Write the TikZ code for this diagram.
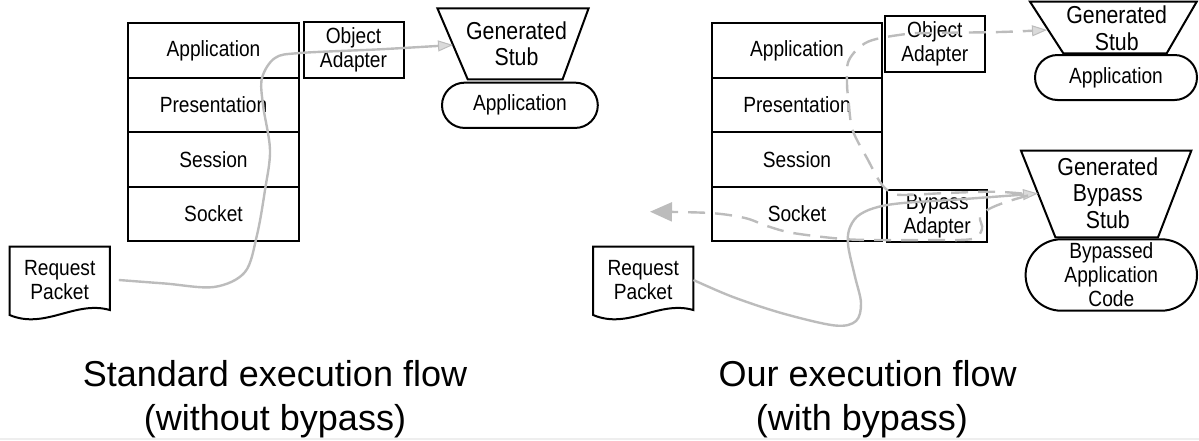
\documentclass[tikz,border=0pt]{standalone}
\usepackage{fontspec}
\setmainfont{Liberation Sans}
\newfontfamily\boxfont[FakeStretch=0.87]{Liberation Sans}
\usetikzlibrary{shapes.misc,arrows.meta}
\definecolor{flowgray}{RGB}{188,188,188}
\definecolor{tipfill}{RGB}{218,218,218}
\definecolor{stripgray}{RGB}{238,238,238}

\begin{document}
\begin{tikzpicture}[x=1pt,y=-1pt,
  lbl/.style={font=\boxfont\fontsize{22}{24}\selectfont, align=center},
  box/.style={lbl, draw=black, line width=2pt, inner sep=0pt},
  layer/.style={box, minimum width=170.6pt, minimum height=54.4pt},
  adapter/.style={box},
  stubtext/.style={font=\boxfont\fontsize{24.5}{26.3}\selectfont, align=center, inner sep=0pt},
  outline/.style={draw=black, line width=2pt, line join=miter},
  pill/.style={box, rounded rectangle},
  caption/.style={font=\fontsize{36}{43}\selectfont, anchor=base, inner sep=0pt},
  flow/.style={draw=flowgray, line width=2.4pt},
  fallback/.style={flow, dash pattern=on 17pt off 10pt},
  intip/.style={-{Triangle[length=15pt,width=11pt,line width=1pt,fill=tipfill]}},
  outtip/.style={-{Triangle[length=22pt,width=19pt]}}
]
\useasboundingbox (0,0) rectangle (1199,440);
\fill[stripgray] (0,437.5) rectangle (1199,440);

% ---------- standard flow (left) ----------
\node[layer] (app1)  at (213.5,50.5)  {Application};
\node[layer] (pres1) at (213.5,104.9) {Presentation};
\node[layer] (sess1) at (213.5,159.3) {Session};
\node[layer] (sock1) at (213.5,213.7) {Socket};
\node[adapter, minimum width=100pt, minimum height=56pt] (oa1) at (353.5,50) {Object\\Adapter};

\draw[outline] (437.4,8.3) -- (588.6,8.3) -- (562.6,79.3) -- (467.7,79.3) -- cycle;
\node[stubtext] (stub1) at (516.5,43.8) {Generated\\Stub};
\coordinate (stub1in) at (453,45);

\node[pill, minimum width=155.8pt, minimum height=45.3pt] (pill1) at (519.9,105.3) {Application};

\node[lbl, minimum width=100.2pt, minimum height=66.6pt, inner sep=0pt] (req1) at (59.7,280) {Request\\Packet};
\draw[outline] (9.6,315) -- (9.6,246.7) -- (109.8,246.7) -- (109.8,310)
  .. controls (75,300) and (45,330) .. cycle;

\draw[flow, intip] plot[smooth, tension=0.55] coordinates {
  ([xshift=8.8pt]req1.east) (165,283.5) (214,287) (245,272) (257,235) (265,190)
  (270,150) (263,105) (262,78) (275,58) (300,53) (380,49.3) (stub1in)};

% ---------- bypass flow (right) ----------
\node[layer] (app2)  at (797,50.5)  {Application};
\node[layer] (pres2) at (797,104.9) {Presentation};
\node[layer] (sess2) at (797,159.3) {Session};
\node[layer] (sock2) at (797,213.7) {Socket};
\node[adapter, minimum width=99.6pt, minimum height=55.7pt] (oa2) at (934.8,43.8) {Object\\Adapter};
\node[adapter, minimum width=100.3pt, minimum height=52.3pt] (ba2) at (937.2,216.2) {Bypass\\Adapter};

\draw[outline] (1030,1.7) -- (1196.7,1.7) -- (1166.7,53.3) -- (1063.3,53.3) -- cycle;
\node[stubtext] (stub2) at (1116.7,28.3) {Generated\\Stub};
\coordinate (stub2in) at (1047,30);
\node[pill, minimum width=162pt, minimum height=45pt] (pill2) at (1116,77.5) {Application};

\draw[outline] (1021,150.7) -- (1191.3,150.7) -- (1158,237.3) -- (1055.4,237.3) -- cycle;
\node[stubtext] (stub3) at (1107.8,193) {Generated\\Bypass\\Stub};
\coordinate (stub3in) at (1038,193.5);
\node[pill, minimum width=171.4pt, minimum height=71.4pt] (pill3) at (1111.3,275) {Bypassed\\Application\\Code};

\node[lbl, minimum width=100.2pt, minimum height=66.6pt, inner sep=0pt] (req2) at (643.2,280) {Request\\Packet};
\draw[outline] (593.1,315) -- (593.1,246.7) -- (693.3,246.7) -- (693.3,310)
  .. controls (658.5,300) and (628.5,330) .. cycle;
\coordinate (reply) at (650,211.7);

% request entering the bypass stub
\draw[flow, intip] plot[smooth, tension=0.55] coordinates {
  (req2.east) (733,297) (783,313.5) (835,325.5) (856,321) (861,303) (855,276.7)
  (848.3,246.7) (849,230) (857,216.7) (873.3,208.3) (900,203.3) (960,199.3) (stub3in)};

% fallback to the generated stub
\draw[fallback, intip] plot[smooth, tension=0.55] coordinates {
  ([xshift=-16pt]stub3in) (993,191.7) (946.7,193) (903,195) (890,192) (880,182)
  (868,160) (852.6,130) (848.5,100) (847,83) (849,60) (868,41.7) (906,34) (930,33)
  (1000,32) (stub2in)};

% reply leaving through the socket
\draw[fallback, outtip] plot[smooth, tension=0.55] coordinates {
  ([xshift=-10pt,yshift=-2pt]stub3in) (1006,202) (989,209) (980,217) (982,229)
  (972,239) (930,240) (880,240) (843,239) (793,233) (767,226) (745,218) (710,213) (reply)};

% ---------- captions ----------
\node[caption] (cap1a) at (275,386.7) {Standard execution flow};
\node[caption] (cap1b) at (275,430) {(without bypass)};
\node[caption] (cap2a) at (867.7,386.7) {Our execution flow};
\node[caption] (cap2b) at (862,430) {(with bypass)};
\end{tikzpicture}
\end{document}
